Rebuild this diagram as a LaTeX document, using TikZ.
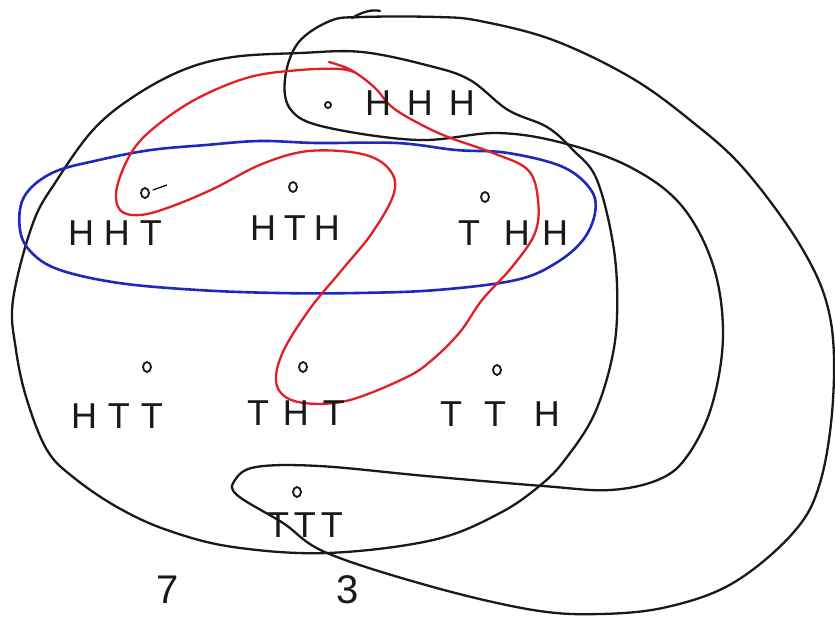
\documentclass[tikz,border=0pt]{standalone}
\usepackage{fontspec}
\setmainfont{Liberation Sans}
\usetikzlibrary{shapes.geometric}
\newcommand\triple[4][10pt]{#2\kern#1#3\kern#1#4}
\definecolor{penblack}{RGB}{25,25,25}
\definecolor{penred}{RGB}{226,30,38}
\definecolor{penblue}{RGB}{28,40,190}
\begin{document}
\begin{tikzpicture}[x=1pt,y=-1pt,
  curve/.style={line width=2.3pt, line cap=round, line join=round, penblack},
  outcome/.style={font=\fontsize{36}{40}\selectfont, inner sep=0pt, text=penblack},
  digit/.style={font=\fontsize{40}{44}\selectfont, inner sep=0pt, text=penblack},
  pt/.style={draw=penblack, line width=1.8pt, ellipse, inner sep=0pt,
    minimum width=8pt, minimum height=10pt},
]
\useasboundingbox (0,0) rectangle (835,616);
\fill[white] (0,0) rectangle (835,616);

% sample space
\draw[curve] plot[smooth cycle, tension=0.6] coordinates {
  (13,300) (16,350) (27,400) (47,450) (73,477) (117,507) (167,530) (233,547)
  (327,553) (433,540) (500,513) (543,483) (567,457) (593,417) (610,367)
  (617,317) (614,250) (597,180) (573,150) (547,127) (508,110) (470,80)
  (430,66) (362,52) (300,53) (233,57) (183,70) (133,97) (93,130) (57,180)
  (33,223)};

% event {HHH, TTT}
\draw[curve] plot[smooth cycle, tension=0.6] coordinates {
  (330,21) (298,43) (285,79) (291,110) (325,127) (418,140) (497,133)
  (563,143) (630,167) (681,205) (713,265) (723,335) (712,405) (688,455)
  (660,479) (610,490) (543,486) (426,476) (319,466) (256,467) (235,480)
  (237,495) (283,523) (327,553) (433,587) (533,610) (600,614) (667,607)
  (733,583) (793,533) (820,483) (833,400) (830,317) (803,250) (745,170)
  (690,120) (630,77) (553,40) (480,21) (437,17) (362,17)};
\draw[curve] (352,18) .. controls (362,12) and (372,9) .. (380,11);

% blue event
\draw[line width=2.6pt, penblue, line join=round] plot[smooth cycle, tension=0.6] coordinates {
  (20,230) (24,197) (52,173) (99,160) (151,150) (206,145) (260,141) (317,143)
  (397,143) (456,150) (508,153) (563,167) (591,190) (595,213) (583,240)
  (556,263) (516,280) (437,290) (357,293) (278,293) (198,290) (119,283)
  (60,270) (32,253)};

% red event
\draw[line width=2.3pt, penred, line cap=round, line join=round] plot[smooth, tension=0.6] coordinates {
  (329,62) (351,70) (374,87) (392,107) (418,123) (448,137) (493,153) (528,170)
  (538,200) (535,233) (512,267) (482,300) (460,332) (432,360) (405,378)
  (346,401) (298,402) (277,386) (282,354) (309,310) (341,271) (372,233)
  (394,193) (389,169) (362,154) (309,151) (262,164) (213,189) (170,207)
  (140,215) (120,210) (117,187) (133,150) (160,123) (200,97) (250,77)
  (300,70) (340,69) (356,73)};

% outcomes
\node[outcome] (hhh) at (420,103) {\triple[16pt]{H}{H}{H}};
\node[outcome] (hht) at (115,233) {\triple[10pt]{H}{H}{T}};
\node[outcome] (hth) at (295,228) {\triple[8pt]{H}{T}{H}};
\node[outcome] (thh) at (513,233) {T\kern24pt H\kern12pt H};
\node[outcome] (htt) at (117,416) {\triple[11pt]{H}{T}{T}};
\node[outcome] (tht) at (296,413) {\triple[14pt]{T}{H}{T}};
\node[outcome] (tth) at (500,414) {T\kern22pt T\kern28pt H};
\node[outcome] (ttt) at (305,525) {\triple[5pt]{T}{T}{T}};

% points of the outcomes
\node[pt, minimum width=6pt, minimum height=6pt] (p-hhh) at (328,105) {};
\node[pt] (p-hht) at (145,193) {};
\draw[penblack, line width=1.4pt] (p-hht.east) ++(3,-3) -- ++(14,-5);
\node[pt] (p-hth) at (293,187) {};
\node[pt] (p-thh) at (485,197) {};
\node[pt] (p-htt) at (147,367) {};
\node[pt] (p-tht) at (303,367) {};
\node[pt] (p-tth) at (497,370) {};
\node[pt] (p-ttt) at (297,492) {};

% counts
\node[digit] (n7) at (168,590) {7};
\node[digit] (n3) at (348,590) {3};
\end{tikzpicture}
\end{document}
